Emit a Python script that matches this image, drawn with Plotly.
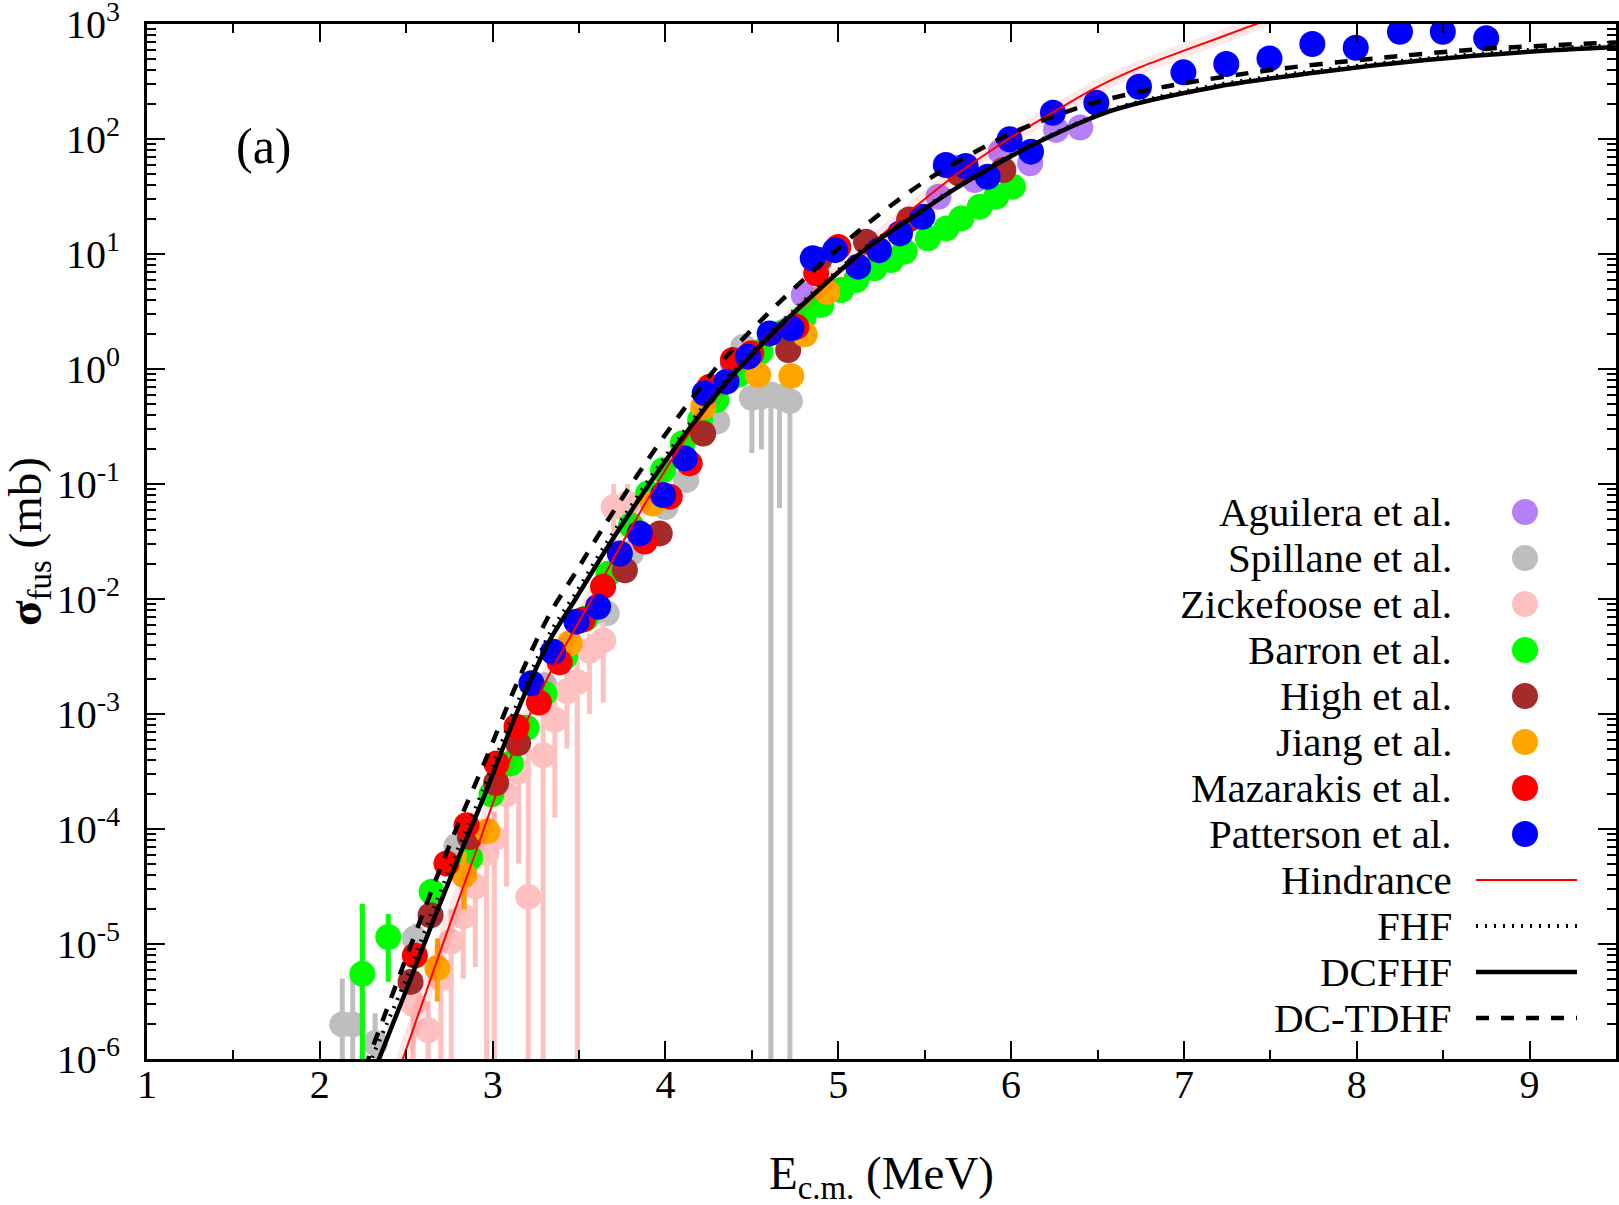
import plotly.graph_objects as go

FONT = "Liberation Serif, Times New Roman, serif"

# ---------------- data (E_cm in MeV, sigma_fus in mb) ----------------
agu_E = [4.39, 4.80, 5.58, 5.68, 5.79, 5.94, 6.11, 6.26, 6.40]
agu_sig = [1.12, 4.40, 31.5, 56.2, 44.0, 77.6, 61.5, 120, 126]

spi_E = [2.13, 2.19, 2.32, 2.55, 2.79, 3.04, 3.30, 3.66, 3.80, 4.00, 4.12, 4.30, 4.45,
         4.50, 4.555, 4.61, 4.66, 4.72]
spi_sig = [2.0e-6, 2.0e-6, 1.38e-6, 1.12e-5, 7.1e-5, 3.16e-4, 1.78e-3, 7.5e-3, 2.5e-2,
           6.3e-2, 0.108, 0.35, 1.56, 0.562, 0.575, 0.60, 0.575, 0.525]
spi_lo = [1e-7, 1e-7, 1e-7, 7e-6, 5e-5, 2.4e-4, 1.4e-3, 6.3e-3, 2.0e-2, 5.0e-2, 0.09,
          0.30, 1.3, 0.186, 0.20, 1e-7, 0.0617, 1e-7]
spi_hi = [5.0e-6, 5.6e-6, 2.5e-6, 1.5e-5, 9e-5, 4e-4, 2.2e-3, 9e-3, 3.0e-2, 7.5e-2,
          0.125, 0.40, 1.8, 0.65, 0.66, 0.70, 0.66, 0.60]

zic_E = [2.54, 2.627, 2.70, 2.76, 2.83, 2.90, 2.965, 3.01, 3.08, 3.15, 3.206, 3.292,
         3.36, 3.43, 3.49, 3.56, 3.64, 3.70, 3.78]
zic_sig = [3.0e-6, 1.78e-6, 5.0e-6, 1.05e-5, 1.74e-5, 3.16e-5, 6.17e-5, 8.3e-5, 2.0e-4,
           3.16e-4, 2.57e-5, 4.37e-4, 8.9e-4, 1.58e-3, 1.9e-3, 3.55e-3, 4.37e-3,
           6.3e-2, 6.8e-2]
zic_lo = [1e-7, 1e-7, 1e-7, 1e-7, 5.0e-6, 6.3e-6, 1e-7, 1e-7, 3.16e-5, 5.0e-5, 1e-7,
          1e-7, 1.26e-4, 5.0e-4, 1e-7, 1.0e-3, 1.26e-3, 3.16e-2, 4.0e-2]
zic_hi = [5.0e-6, 3.16e-6, 1.0e-5, 2.0e-5, 3.55e-5, 6.3e-5, 1.12e-4, 1.41e-4, 3.55e-4,
          5.6e-4, 6.8e-4, 1.0e-3, 1.41e-3, 2.5e-3, 4.0e-3, 5.0e-3, 6.3e-3, 0.1, 0.1]

bar_E = [2.246, 2.396, 2.647, 2.87, 2.993, 3.105, 3.196, 3.30, 3.42, 3.54, 3.67, 3.80,
         3.90, 3.986, 4.10, 4.20, 4.295, 4.42, 4.55, 4.68, 4.80, 4.902, 5.017, 5.104,
         5.21, 5.306, 5.384, 5.519, 5.625, 5.712, 5.818, 5.914, 6.01]
bar_sig = [5.5e-6, 1.15e-5, 2.85e-5, 5.6e-5, 2.0e-4, 3.72e-4, 7.59e-4, 1.51e-3, 3.16e-3,
           6.76e-3, 1.66e-2, 4.37e-2, 8.3e-2, 0.132, 0.226, 0.361, 0.537, 0.891, 1.41,
           2.09, 2.82, 3.61, 4.86, 5.94, 7.52, 8.87, 10.5, 13.7, 16.7, 20.4, 25.7, 31.6,
           38.5]
bar_lo = [1e-7, 4.7e-6, 2.3e-5, 4.5e-5] + [None] * 29
bar_hi = [2.24e-5, 1.82e-5, 3.4e-5, 6.5e-5] + [None] * 29

hig_E = [2.525, 2.641, 2.868, 3.02, 3.147, 3.765, 3.967, 4.218, 4.71, 4.89, 5.16, 5.41,
         5.70, 5.955]
hig_sig = [4.68e-6, 1.78e-5, 8.51e-5, 2.51e-4, 5.56e-4, 1.78e-2, 3.72e-2, 0.275, 1.46,
           8.91, 12.8, 20.0, 50.1, 53.7]

jia_E = [2.68, 2.835, 2.97, 3.446, 3.928, 4.218, 4.536, 4.728, 4.806, 4.935]
jia_sig = [6.17e-6, 3.98e-5, 9.55e-5, 4.12e-3, 6.76e-2, 0.468, 0.891, 0.871, 2.0, 4.68]
jia_lo = [3.16e-6, 2.0e-5] + [None] * 8
jia_hi = [1.12e-5, 6.3e-5] + [None] * 8

maz_E = [2.55, 2.733, 2.849, 3.022, 3.138, 3.268, 3.388, 3.523, 3.639, 3.88, 4.025,
         4.14, 4.256, 4.39, 4.497, 4.757, 4.872, 5.0]
maz_sig = [7.94e-6, 5.01e-5, 1.08e-4, 3.72e-4, 7.76e-4, 1.26e-3, 2.82e-3, 6.61e-3,
           1.28e-2, 3.16e-2, 7.76e-2, 0.151, 0.70, 1.20, 1.37, 2.33, 6.79, 11.5]

pat_E = [3.225, 3.35, 3.485, 3.61, 3.736, 3.851, 3.986, 4.112, 4.227, 4.353, 4.478,
         4.603, 4.728, 4.852, 4.982, 5.115, 5.236, 5.357, 5.486, 5.622, 5.737, 5.864,
         5.991, 6.115, 6.242, 6.493, 6.74, 6.997, 7.245, 7.495, 7.743, 7.994, 8.25,
         8.498, 8.749]
pat_sig = [1.85e-3, 3.48e-3, 6.35e-3, 8.57e-3, 2.49e-2, 3.72e-2, 8.02e-2, 0.167, 0.615,
           0.776, 1.28, 2.04, 2.26, 9.18, 10.8, 7.76, 10.8, 15.1, 21.1, 59.4, 58.2, 47.0,
           99.3, 77.6, 169, 207, 285, 380, 449, 501, 670, 622, 857, 857, 752]

# theory curves
hin_E = [2.45, 2.70, 2.91, 3.05, 3.254, 3.33, 3.562, 3.755, 4.10, 4.39, 4.80, 5.24, 5.62,
         5.985, 6.23, 6.47, 6.74, 7.04, 7.40, 7.50]
hin_sig = [7.4e-7, 8.9e-6, 6.8e-5, 2.63e-4, 1.32e-3, 2.24e-3, 9.3e-3, 3.16e-2, 0.229,
           0.871, 3.55, 14.1, 41.7, 100, 166, 269, 417, 617, 977, 1122]

fhf_E = [2.28, 2.50, 2.65, 2.80, 2.95, 3.15, 3.33, 3.48, 3.66, 3.99, 4.30, 4.68, 5.15,
         5.38, 5.68, 6.10, 6.59, 7.19, 7.80, 8.40, 9.00, 9.50]
fhf_sig = [8.7e-7, 5.0e-6, 1.9e-5, 6.76e-5, 2.29e-4, 1.32e-3, 5.01e-3, 1.12e-2, 3.09e-2,
           0.166, 0.661, 2.63, 11.2, 19.1, 38.0, 87.1, 182, 295, 398, 501, 596, 653]

dcf_E = [2.30, 2.50, 2.65, 2.80, 2.95, 3.15, 3.33, 3.48, 3.66, 3.99, 4.30, 4.68, 5.15,
         5.38, 5.68, 6.10, 6.59, 7.19, 7.80, 8.40, 9.00, 9.50]
dcf_sig = [6.9e-7, 3.98e-6, 1.51e-5, 5.50e-5, 1.91e-4, 1.12e-3, 4.37e-3, 1.0e-2, 2.75e-2,
           0.151, 0.617, 2.51, 10.8, 18.6, 37.2, 85.1, 178, 285, 385, 486, 575, 631]

dct_E = [2.26, 2.50, 2.65, 2.80, 2.95, 3.15, 3.33, 3.48, 3.66, 3.99, 4.30, 4.68, 5.15,
         5.51, 6.00, 6.47, 6.89, 7.50, 8.10, 8.70, 9.50]
dct_sig = [8.3e-7, 7.6e-6, 3.0e-5, 1.1e-4, 3.7e-4, 2.0e-3, 7.4e-3, 1.7e-2, 4.68e-2,
           0.257, 1.05, 4.07, 17.4, 43.7, 112, 204, 285, 398, 501, 603, 692]

x_ticks = [1, 2, 3, 4, 5, 6, 7, 8, 9]
x_minor = [1.5, 2.5, 3.5, 4.5, 5.5, 6.5, 7.5, 8.5]
y_exps = [-6, -5, -4, -3, -2, -1, 0, 1, 2, 3]

series = [
    ("Aguilera et al.", agu_E, agu_sig, "#b77ff7", None, None),
    ("Spillane et al.", spi_E, spi_sig, "#bebebe", spi_lo, spi_hi),
    ("Zickefoose et al.", zic_E, zic_sig, "#ffc0c0", zic_lo, zic_hi),
    ("Barron et al.", bar_E, bar_sig, "#00ff00", bar_lo, bar_hi),
    ("High et al.", hig_E, hig_sig, "#a52a2a", None, None),
    ("Jiang et al.", jia_E, jia_sig, "#ffa500", jia_lo, jia_hi),
    ("Mazarakis et al.", maz_E, maz_sig, "#ff0000", None, None),
    ("Patterson et al.", pat_E, pat_sig, "#0000ff", None, None),
]

HIN_DASH = "solid"
FHF_DASH = "2px,7px"
DCT_DASH = "13px,12px"
curves = [
    ("Hindrance", hin_E, hin_sig, "#ff0000", 2, HIN_DASH),
    ("FHF", fhf_E, fhf_sig, "black", 4, FHF_DASH),
    ("DCFHF", dcf_E, dcf_sig, "black", 4.5, "solid"),
    ("DC-TDHF", dct_E, dct_sig, "black", 4.5, DCT_DASH),
]

fig = go.Figure()

for name, E, sig, color, lo, hi in series:
    err = None
    if lo is not None:
        plus = [(h - s) if h is not None else 0 for s, h in zip(sig, hi)]
        minus = [(s - l) if l is not None else 0 for s, l in zip(sig, lo)]
        err = dict(type="data", symmetric=False, array=plus, arrayminus=minus,
                   color=color, thickness=5, width=0)
    fig.add_trace(go.Scatter(x=E, y=sig, mode="markers", name=name, showlegend=False,
                             marker=dict(size=26, color=color, line=dict(width=0)),
                             error_y=err))

# faint band around the hindrance curve
fig.add_trace(go.Scatter(x=hin_E, y=hin_sig, mode="lines", showlegend=False,
                         line=dict(color="rgba(255,0,0,0.09)", width=14, shape="spline",
                                   smoothing=0.8), hoverinfo="skip"))
for name, E, sig, color, w, dash in curves:
    fig.add_trace(go.Scatter(x=E, y=sig, mode="lines", name=name, showlegend=False,
                             line=dict(color=color, width=w, dash=dash, shape="spline",
                                       smoothing=0.8)))

# ---------------- layout ----------------
PL, PR, PT, PB = 147, 1616, 24, 1059
W, H = 1619, 1205


def px_x(px):
    return (px - PL) / (PR - PL)


def px_y(py):
    return (PB - py) / (PB - PT)


axis_common = dict(ticks="inside", ticklen=18, tickwidth=2, tickcolor="black",
                   showline=True, linewidth=3, linecolor="black", mirror="ticks",
                   showgrid=False, zeroline=False, ticklabeloverflow="allow",
                   automargin=False,
                   tickfont=dict(family=FONT, size=40, color="black"))

fig.update_xaxes(range=[1, 9.5], tickmode="array", tickvals=x_ticks,
                 ticktext=[str(v) for v in x_ticks], ticklabelstandoff=-12,
                 minor=dict(tickmode="array", tickvals=x_minor, ticks="inside", ticklen=9,
                            tickwidth=2, tickcolor="black", showgrid=False),
                 **axis_common)
fig.update_yaxes(type="log", range=[-6, 3], tickmode="array",
                 tickvals=[10.0 ** e for e in y_exps],
                 ticktext=["10<sup>%d</sup>" % e for e in y_exps], ticklabelstandoff=16,
                 minor=dict(tickmode="array",
                            tickvals=[k * 10.0 ** e for e in y_exps[:-1] for k in range(2, 10)],
                            ticks="inside", ticklen=9, tickwidth=2, tickcolor="black",
                            showgrid=False),
                 **axis_common)

annotations = [
    dict(text="E<sub>c.m.</sub> (MeV)", x=0.5, y=px_y(1176), xref="paper", yref="paper",
         xanchor="center", yanchor="middle", showarrow=False,
         font=dict(family=FONT, size=47, color="black")),
    dict(text="<b>σ</b><sub>fus</sub> (mb)", x=px_x(28), y=px_y(542), xref="paper",
         yref="paper", xanchor="center", yanchor="middle", textangle=-90, showarrow=False,
         font=dict(family=FONT, size=47, color="black")),
    dict(text="(a)", x=px_x(264), y=px_y(146), xref="paper", yref="paper",
         xanchor="center", yanchor="middle", showarrow=False,
         font=dict(family=FONT, size=50, color="black")),
]

shapes = []
LEG_TX, LEG_MX, LEG_L0, LEG_L1 = 1454, 1525, 1476, 1577
LEG_Y0, LEG_DY = 512, 46.0
leg_items = [(s[0], "marker", s[3], None, None) for s in series] + \
            [(c[0], "line", c[3], c[4], c[5]) for c in curves]
for i, (name, kind, color, w, dash) in enumerate(leg_items):
    yy = LEG_Y0 + i * LEG_DY
    annotations.append(dict(text=name, x=px_x(LEG_TX), y=px_y(yy), xref="paper",
                            yref="paper", xanchor="right", yanchor="middle",
                            showarrow=False,
                            font=dict(family=FONT, size=41, color="black")))
    if kind == "marker":
        shapes.append(dict(type="circle", xref="paper", yref="paper",
                           xsizemode="pixel", ysizemode="pixel",
                           xanchor=px_x(LEG_MX), yanchor=px_y(yy),
                           x0=-13, x1=13, y0=-13, y1=13,
                           fillcolor=color, line=dict(width=0)))
    else:
        shapes.append(dict(type="line", xref="paper", yref="paper",
                           x0=px_x(LEG_L0), x1=px_x(LEG_L1), y0=px_y(yy), y1=px_y(yy),
                           line=dict(color=color, width=w, dash=dash)))

fig.update_layout(width=W, height=H, margin=dict(l=PL, r=W - PR, t=PT, b=H - PB),
                  paper_bgcolor="white", plot_bgcolor="white", showlegend=False,
                  font=dict(family=FONT, size=40, color="black"),
                  annotations=annotations, shapes=shapes)

fig.write_html("out.html")
